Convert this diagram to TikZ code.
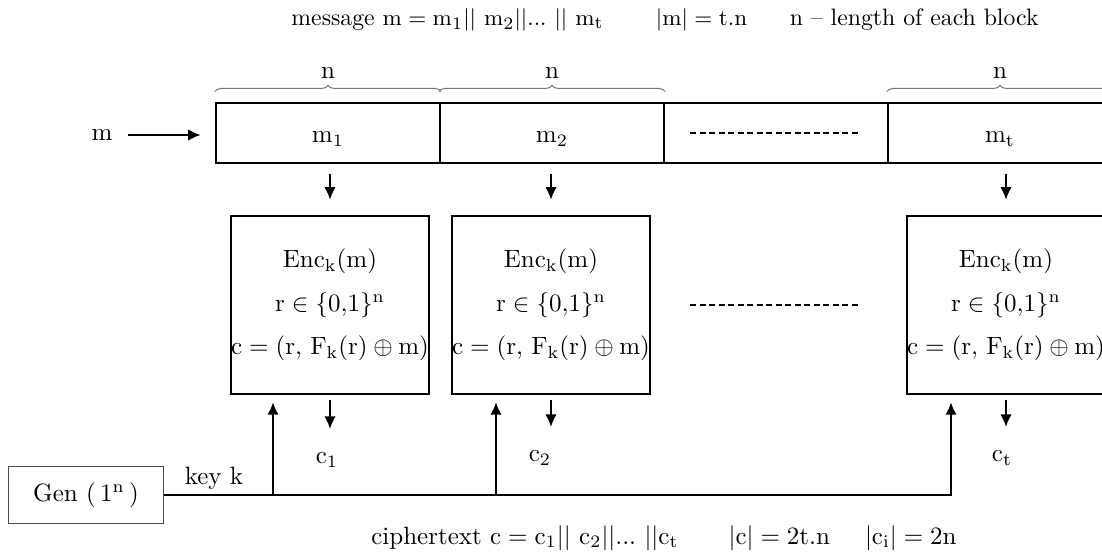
\documentclass[tikz,border=0pt]{standalone}
\usetikzlibrary{decorations.pathreplacing,arrows.meta}
\begin{document}
\begin{tikzpicture}[x=0.4pt,y=-0.4pt]
% Styles
\tikzstyle{fleche}=[-{Latex[length=5pt,width=4.6pt]},line width=0.9pt]
\tikzstyle{bloc}=[draw,line width=1pt,minimum width=89.6pt,minimum height=24pt,inner sep=0pt,text height=8pt,text depth=0pt]
\tikzstyle{boite}=[draw,line width=1pt,minimum width=78.4pt,minimum height=71.2pt,align=center,inner sep=0pt]
\tikzstyle{accolade}=[decorate,decoration={brace,amplitude=2.6pt},draw=black!55,line width=0.4pt]
\tikzstyle{pointilles}=[line width=0.9pt,dash pattern=on 2.4pt off 1.4pt]
\tikzstyle{sortie}=[anchor=north,inner sep=0pt]
% Dimensions
\def\NiveauBloc{133}
\def\NiveauBoite{305}
\def\NiveauCle{495}
\def\Chiffrement{$\mathrm{Enc_k(m)}$\\[5.5pt]$\mathrm{r}\in\{0{,}1\}^{\mathrm{n}}$\\[5.5pt]$\mathrm{c}=(\mathrm{r},\,\mathrm{F_k(r)}\oplus\mathrm{m})$}
% Cadre
\useasboundingbox (0,0) rectangle (1102,552);
% Noeuds
\node[font=\fontsize{9.5pt}{11pt}\selectfont] (titre) at (665,20) {message $\mathrm{m}=\mathrm{m_1}||\ \mathrm{m_2}||...\ ||\ \mathrm{m_t}$\hspace{2.2em}$|\mathrm{m}|=\mathrm{t.n}$\hspace{1.8em}n -- length of each block};
\node (m) at (102,135) {$\mathrm{m}$};
\node[bloc] (b1) at (328,\NiveauBloc) {$\mathrm{m_1}$};
\node[bloc] (b2) at (552,\NiveauBloc) {$\mathrm{m_2}$};
\node[bloc] (b3) at (776,\NiveauBloc) {};
\node[bloc] (b4) at (1000,\NiveauBloc) {$\mathrm{m_t}$};
\node[boite] (e1) at (330,\NiveauBoite) {\Chiffrement};
\node[boite] (e2) at (551,\NiveauBoite) {\Chiffrement};
\node[boite] (e3) at (1006,\NiveauBoite) {\Chiffrement};
\node[sortie] (c1) at (327,452) {$\mathrm{c_1}$};
\node[sortie] (c2) at (540,450) {$\mathrm{c_2}$};
\node[sortie] (c3) at (1002,450) {$\mathrm{c_t}$};
\node[draw=black!70,line width=0.4pt,minimum width=62pt,minimum height=22.8pt] (gen) at (86,\NiveauCle) {Gen (\,$1^{\mathrm{n}}$\,)};
\node (cle) at (214,478) {key k};
\node (chiffre) at (664,538) {ciphertext $\mathrm{c}=\mathrm{c_1}||\ \mathrm{c_2}||...\ ||\mathrm{c_t}$\hspace{2em}$|\mathrm{c}|=\mathrm{2t.n}$\hspace{1.4em}$|\mathrm{c_i}|=\mathrm{2n}$};
\coordinate (k1) at (273,\NiveauCle);
\coordinate (k2) at (496,\NiveauCle);
\coordinate (k3) at (951,\NiveauCle);
% Accolades
\draw[accolade] ([yshift=4pt]b1.north west) -- ([yshift=4pt]b1.north east) node[midway,yshift=7.5pt] {$\mathrm{n}$};
\draw[accolade] ([yshift=4pt]b2.north west) -- ([yshift=4pt]b2.north east) node[midway,yshift=7.5pt] {$\mathrm{n}$};
\draw[accolade] ([yshift=4pt]b4.north west) -- ([yshift=4pt]b4.north east) node[midway,yshift=7.5pt] {$\mathrm{n}$};
% Pointilles
\draw[pointilles] (690,\NiveauBloc) -- (860,\NiveauBloc);
\draw[pointilles] (690,\NiveauBoite) -- (860,\NiveauBoite);
% Arcs
\draw[fleche,shorten <=2.6pt,shorten >=5.6pt] (m.east) -- (m.east -| b1.west);
\draw[fleche,shorten <=4pt,shorten >=6pt] (e1.north |- b1.south) -- (e1.north);
\draw[fleche,shorten <=4pt,shorten >=6pt] (e2.north |- b2.south) -- (e2.north);
\draw[fleche,shorten <=4pt,shorten >=6pt] (e3.north |- b4.south) -- (e3.north);
\draw[fleche,shorten <=2pt,shorten >=9.2pt] (e1.south) -- (e1.south |- c1.north);
\draw[fleche,shorten <=2pt,shorten >=9.2pt] (e2.south) -- (e2.south |- c2.north);
\draw[fleche,shorten <=2pt,shorten >=9.2pt] (e3.south) -- (e3.south |- c3.north);
\draw[fleche,shorten >=2.8pt] (gen.east) -- (k3) -- (k3 |- e3.south);
\draw[fleche,shorten >=2.8pt] (k1) -- (k1 |- e1.south);
\draw[fleche,shorten >=2.8pt] (k2) -- (k2 |- e2.south);
\end{tikzpicture}
\end{document}
